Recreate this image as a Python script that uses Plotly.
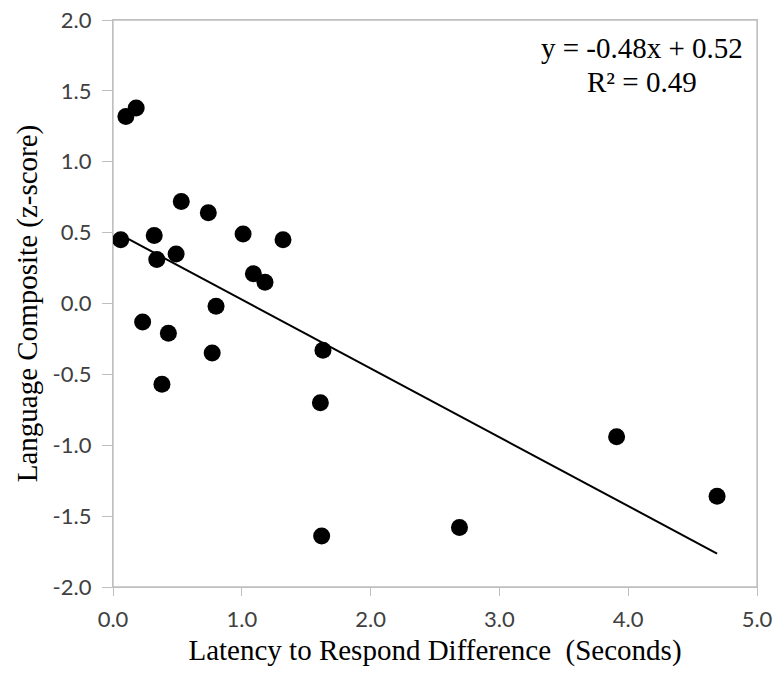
import numpy as np
import plotly.graph_objects as go

# Data
latency_diff = [0.06, 0.10, 0.18, 0.32, 0.34, 0.53, 0.49, 0.74, 1.01, 1.09, 1.18, 1.32,
                0.80, 0.23, 0.43, 0.77, 0.38, 1.63, 1.61, 1.62, 2.69, 3.91, 4.69]
language_z = [0.45, 1.32, 1.38, 0.48, 0.31, 0.72, 0.35, 0.64, 0.49, 0.21, 0.15, 0.45,
              -0.02, -0.13, -0.21, -0.35, -0.57, -0.33, -0.70, -1.64, -1.58, -0.94, -1.36]

x_ticks = [0, 1, 2, 3, 4, 5]
x_tick_labels = ["0.0", "1.0", "2.0", "3.0", "4.0", "5.0"]
y_ticks = [-2.0, -1.5, -1.0, -0.5, 0.0, 0.5, 1.0, 1.5, 2.0]
y_tick_labels = ["-2.0", "-1.5", "-1.0", "-0.5", "0.0", "0.5", "1.0", "1.5", "2.0"]

equation_text = "y = -0.48x + 0.52"
r2_text = "R² = 0.49"

# Least-squares trend line over the data range
slope, intercept = np.polyfit(latency_diff, language_z, 1)
xs = np.array(latency_diff)
x_line = [float(xs.min()), float(xs.max())]
y_line = [slope * v + intercept for v in x_line]

fig = go.Figure()
fig.add_trace(go.Scatter(x=x_line, y=y_line, mode="lines",
                         line=dict(color="black", width=2), hoverinfo="skip"))
fig.add_trace(go.Scatter(x=latency_diff, y=language_z, mode="markers",
                         marker=dict(color="black", size=17)))

axis_common = dict(showline=True, linecolor="#bfbfbf", linewidth=1.3, mirror=True,
                   showgrid=False, zeroline=False, ticks="outside",
                   tickcolor="#bfbfbf", automargin=False,
                   tickfont=dict(family="Lato", size=22, color="#404040"))

annot_font = dict(family="Liberation Serif", size=29, color="black")
title_font = dict(family="Liberation Serif", size=29, color="black")

fig.update_layout(
    width=779, height=677,
    margin=dict(l=113, r=22, t=20, b=90),
    plot_bgcolor="white", paper_bgcolor="white",
    showlegend=False,
    xaxis=dict(range=[0, 5], tickvals=x_ticks, ticktext=x_tick_labels,
               ticklen=8, ticklabelstandoff=4,
               title=dict(text="Latency to Respond Difference  (Seconds)",
                          font=title_font, standoff=9),
               **axis_common),
    yaxis=dict(range=[-2, 2], tickvals=y_ticks, ticktext=y_tick_labels,
               ticklen=10, ticklabelstandoff=6,
               title=dict(text="Language Composite (z-score)",
                          font=title_font, standoff=6),
               **axis_common),
    shapes=[dict(type="rect", xref="paper", yref="paper", x0=0, y0=0, x1=1, y1=1,
                 line=dict(color="#bfbfbf", width=1.3), layer="below")],
    annotations=[
        dict(xref="paper", yref="paper", x=0.821, y=0.951, xanchor="center", yanchor="middle",
             text=equation_text, showarrow=False, font=annot_font),
        dict(xref="paper", yref="paper", x=0.821, y=0.891, xanchor="center", yanchor="middle",
             text=r2_text, showarrow=False, font=annot_font),
    ],
)

fig.write_html("out.html", config={"displayModeBar": False},
               post_script="document.body.style.margin='0';document.body.style.overflow='hidden';")
